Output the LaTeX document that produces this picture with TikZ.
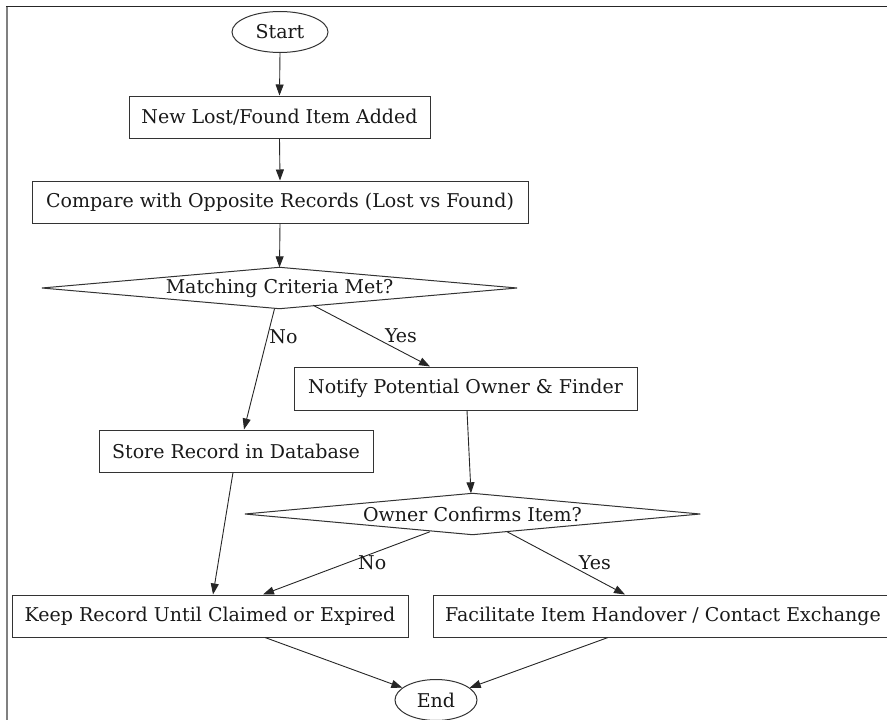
\documentclass[tikz,border=0pt]{standalone}
\usepackage{fontspec}
\setmainfont{DejaVu Serif}
\usetikzlibrary{shapes.geometric,arrows.meta}
\begin{document}
\begin{tikzpicture}[x=1pt,y=-1pt,
  every node/.style={font=\fontsize{19}{22}\selectfont, text=black!90, inner sep=0pt},
  procbox/.style={draw=black!80, line width=1pt, rectangle, minimum height=42pt},
  terminal/.style={draw=black!80, line width=1pt, ellipse},
  decision/.style={rectangle, minimum height=41pt},
  flow/.style={draw=black!85, line width=0.9pt, -{Triangle[length=11pt,width=8pt]}},
  edgelabel/.style={font=\fontsize{19}{22}\selectfont, anchor=center}
]
\useasboundingbox (0,0) rectangle (887,720);

% outer frame (left and top edges)
\draw[black!50, line width=2pt] (7,6) -- (7,722);
\draw[black!85, line width=1.3pt] (6,6.5) -- (889,6.5);

% nodes
\node[terminal, minimum width=96pt, minimum height=41pt] (start) at (280,32) {Start};
\node[procbox, minimum width=301pt] (added) at (279.5,117) {New Lost/Found Item Added};
\node[procbox, minimum width=496pt] (compare) at (280,202) {Compare with Opposite Records (Lost vs Found)};
\node[decision, minimum width=475pt] (match) at (279.5,288) {Matching Criteria Met?};
\draw[black!80, line width=1pt] (match.west) -- (match.north) -- (match.east) -- (match.south) -- cycle;
\node[procbox, minimum width=343pt, minimum height=43pt] (notify) at (465.5,388.5) {Notify Potential Owner \& Finder};
\node[procbox, minimum width=274pt] (store) at (236,451) {Store Record in Database};
\node[decision, minimum width=455pt] (confirm) at (472.5,514) {Owner Confirms Item?};
\draw[black!80, line width=1pt] (confirm.west) -- (confirm.north) -- (confirm.east) -- (confirm.south) -- cycle;
\node[procbox, minimum width=396pt] (keep) at (210,616) {Keep Record Until Claimed or Expired};
\node[procbox, minimum width=460pt] (handover) at (663,616) {Facilitate Item Handover / Contact Exchange};
\node[terminal, minimum width=82pt, minimum height=41pt] (end) at (436,700) {End};

% connectors
\draw[flow] (start.south) -- (added.north);
\draw[flow] (added.south) -- (compare.north);
\draw[flow] (compare.south) -- (match.north);
\draw[flow] ([xshift=-5pt]match.south) -- node[edgelabel, pos=0.23, xshift=16pt] {No} ([xshift=8pt]store.north);
\draw[flow] ([xshift=33.5pt,yshift=3.5pt]match.south) -- node[edgelabel, pos=0.5, xshift=29.5pt] {Yes} ([xshift=-35.5pt]notify.north);
\draw[flow] ([xshift=1.5pt]notify.south) -- ([xshift=-1.5pt]confirm.north);
\draw[flow] ([xshift=-3pt]store.south) -- ([xshift=3pt]keep.north);
\draw[flow] ([xshift=-42.5pt,yshift=3pt]confirm.south) -- node[edgelabel, pos=0.49, xshift=24pt] {No} ([xshift=53pt]keep.north);
\draw[flow] ([xshift=34.5pt,yshift=3pt]confirm.south) -- node[edgelabel, pos=0.49, xshift=30pt] {Yes} ([xshift=-38pt]handover.north);
\draw[flow] ([xshift=55pt]keep.south) -- (end);
\draw[flow] ([xshift=-55pt]handover.south) -- (end);
\end{tikzpicture}
\end{document}
